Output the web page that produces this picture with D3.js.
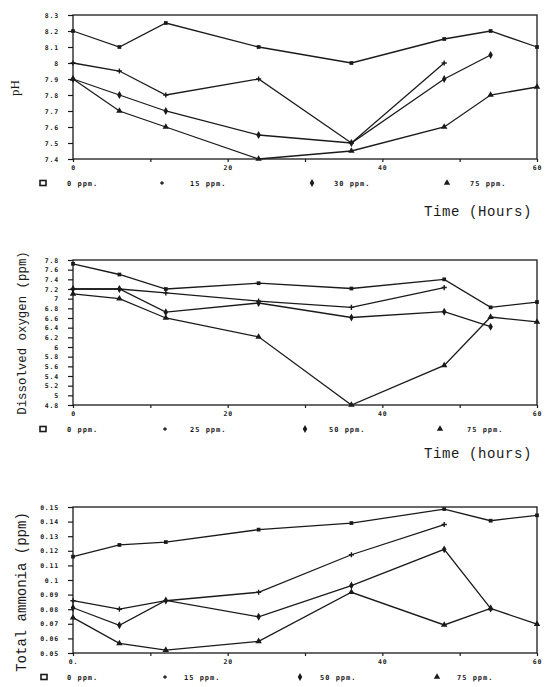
<!DOCTYPE html>
<html>
<head>
<meta charset="utf-8">
<script src="https://cdn.jsdelivr.net/npm/d3@7"></script>
<style>
  body { margin: 0; background: #fff; }
  text { fill: #1a1a1a; }
</style>
</head>
<body>
<svg id="fig" width="550" height="687"></svg>
<script>
// sampling times (hours) shared by the three panels
var hours = [0, 6, 12, 24, 36, 48, 54, 60];
var hourTicks = [0, 10, 20, 30, 40, 50, 60];
var hourLabels = ["0", "", "20", "", "40", "", "60"];

// pH panel
var phTicks = [7.4, 7.5, 7.6, 7.7, 7.8, 7.9, 8, 8.1, 8.2, 8.3];
var ph0 = [8.2, 8.1, 8.25, 8.1, 8.0, 8.15, 8.2, 8.1];
var ph15 = [8.0, 7.95, 7.8, 7.9, 7.5, 8.0];
var ph30 = [7.9, 7.8, 7.7, 7.55, 7.5, 7.9, 8.05];
var ph75 = [7.9, 7.7, 7.6, 7.4, 7.45, 7.6, 7.8, 7.85];
var phLegend = ["0 ppm.", "15 ppm.", "30 ppm.", "75 ppm."];

// dissolved oxygen panel
var doTicks = [4.8, 5, 5.2, 5.4, 5.6, 5.8, 6, 6.2, 6.4, 6.6, 6.8, 7, 7.2, 7.4, 7.6, 7.8];
var do0 = [7.72, 7.5, 7.2, 7.32, 7.21, 7.4, 6.82, 6.93];
var do25 = [7.2, 7.2, 7.12, 6.95, 6.82, 7.23];
var do50 = [7.2, 7.2, 6.72, 6.91, 6.61, 6.73, 6.42];
var do75 = [7.1, 7.0, 6.6, 6.21, 4.8, 5.62, 6.62, 6.52];
var doLegend = ["0 ppm.", "25 ppm.", "50 ppm.", "75 ppm."];

// total ammonia panel
var amTicks = [0.05, 0.06, 0.07, 0.08, 0.09, 0.1, 0.11, 0.12, 0.13, 0.14, 0.15];
var am0 = [0.116, 0.124, 0.126, 0.1345, 0.139, 0.1486, 0.1406, 0.1443];
var am15 = [0.0858, 0.080, 0.0858, 0.0916, 0.1173, 0.138];
var am50 = [0.081, 0.069, 0.086, 0.0748, 0.0962, 0.121, 0.0805];
var am75 = [0.0742, 0.0566, 0.052, 0.058, 0.0916, 0.0692, 0.0805, 0.0698];
var amLegend = ["0 ppm.", "15 ppm.", "50 ppm.", "75 ppm."];

var INK = "#1a1a1a";
var svg = d3.select("#fig");
var x = d3.scaleLinear().domain([0, 60]).range([73, 537]);
var markers = ["square", "plus", "diamond", "triangle"];

function drawMarker(g, kind, cx, cy, s) {
  if (kind === "plus") {
    g.append("path")
      .attr("d", "M" + (cx - s) + "," + cy + "H" + (cx + s) + "M" + cx + "," + (cy - s) + "V" + (cy + s))
      .attr("stroke", INK).attr("stroke-width", 1.4);
    return;
  }
  var type = kind === "square" ? d3.symbolSquare : kind === "diamond" ? d3.symbolDiamond : d3.symbolTriangle;
  g.append("path")
    .attr("d", d3.symbol().type(type).size(kind === "square" ? 14 : 18)())
    .attr("transform", "translate(" + cx + "," + cy + ")")
    .attr("fill", INK);
}

function panel(p) {
  var g = svg.append("g");
  var y = d3.scaleLinear().domain(p.domain).range([p.bottom, p.top]);

  // frame
  g.append("rect")
    .attr("x", x(0)).attr("y", p.top)
    .attr("width", x(60) - x(0)).attr("height", p.bottom - p.top)
    .attr("fill", "none").attr("stroke", INK).attr("stroke-width", 1.3);

  // y axis
  var ya = g.append("g").attr("transform", "translate(" + x(0) + ",0)")
    .call(d3.axisLeft(y).tickValues(p.ticks).tickSize(5).tickPadding(9).tickFormat(d3.format("~g")));
  ya.select(".domain").remove();
  ya.selectAll("line").attr("stroke", INK).attr("stroke-width", 1.2);
  ya.selectAll("text")
    .style("font-family", "DejaVu Sans Mono").style("font-weight", "bold")
    .style("font-size", "6.5px").style("letter-spacing", "0.8px").attr("fill", INK);

  // x axis
  var xa = g.append("g").attr("transform", "translate(0," + p.bottom + ")")
    .call(d3.axisBottom(x).tickValues(hourTicks).tickSize(3).tickPadding(3)
      .tickFormat(function (d, i) { return i === 0 ? p.zeroLabel : hourLabels[i]; }));
  xa.select(".domain").remove();
  xa.selectAll("line").attr("stroke", INK).attr("stroke-width", 1.2);
  xa.selectAll("text")
    .style("font-family", "DejaVu Sans Mono").style("font-weight", "bold")
    .style("font-size", "6.5px").style("letter-spacing", "0.8px").attr("fill", INK);

  // series
  var line = d3.line().x(function (d) { return x(d[0]); }).y(function (d) { return y(d[1]); });
  p.series.forEach(function (vals, si) {
    var pts = vals.map(function (v, i) { return [hours[i], v]; });
    g.append("path").datum(pts).attr("d", line)
      .attr("fill", "none").attr("stroke", INK).attr("stroke-width", 1.3);
    pts.forEach(function (d) { drawMarker(g, markers[si], x(d[0]), y(d[1]), 2.6); });
  });

  // legend row
  p.legend.forEach(function (lab, i) {
    var sx = p.legendSym[i];
    if (i === 0) {
      g.append("rect").attr("x", sx - 3).attr("y", p.legendY - 2.5).attr("width", 6).attr("height", 5)
        .attr("fill", "none").attr("stroke", INK).attr("stroke-width", 1.6);
    } else {
      drawMarker(g, markers[i], sx, p.legendY, 1.8);
    }
    g.append("text").attr("x", p.legendText[i]).attr("y", p.legendY + 2.5)
      .style("font-family", "DejaVu Sans Mono").style("font-weight", "bold")
      .style("font-size", "7px").style("letter-spacing", "1px")
      .text(lab);
  });

  // axis titles
  g.append("text")
    .attr("transform", "translate(" + p.titleX + "," + p.titleY + ") rotate(-90)")
    .attr("text-anchor", "middle")
    .style("font-family", p.titleFont).style("font-size", p.titleSize + "px")
    .text(p.title);

  if (p.timeLabel) {
    g.append("text").attr("x", 424).attr("y", p.timeY)
      .style("font-family", "Liberation Mono").style("font-size", "14px")
      .style("letter-spacing", "0.6px")
      .text(p.timeLabel);
  }
}

panel({
  top: 15, bottom: 159, domain: [7.4, 8.3], ticks: phTicks,
  series: [ph0, ph15, ph30, ph75], legend: phLegend, zeroLabel: "0",
  legendY: 183, legendSym: [43, 162, 312, 447], legendText: [67, 190, 334, 470],
  title: "pH", titleX: 19, titleY: 88, titleFont: "Liberation Serif", titleSize: 13,
  timeLabel: "Time (Hours)", timeY: 216
});

panel({
  top: 260, bottom: 405, domain: [4.8, 7.8], ticks: doTicks,
  series: [do0, do25, do50, do75], legend: doLegend, zeroLabel: "0",
  legendY: 429, legendSym: [43, 165, 305, 440], legendText: [67, 190, 329, 467],
  title: "Dissolved oxygen (ppm)", titleX: 26, titleY: 333, titleFont: "Liberation Mono", titleSize: 12.4,
  timeLabel: "Time (hours)", timeY: 458
});

panel({
  top: 507, bottom: 653, domain: [0.05, 0.15], ticks: amTicks,
  series: [am0, am15, am50, am75], legend: amLegend, zeroLabel: "0.",
  legendY: 677, legendSym: [44, 165, 300, 437], legendText: [67, 184, 320, 457],
  title: "Total ammonia (ppm)", titleX: 26, titleY: 592, titleFont: "Liberation Mono", titleSize: 14,
  timeLabel: null
});
</script>
</body>
</html>
